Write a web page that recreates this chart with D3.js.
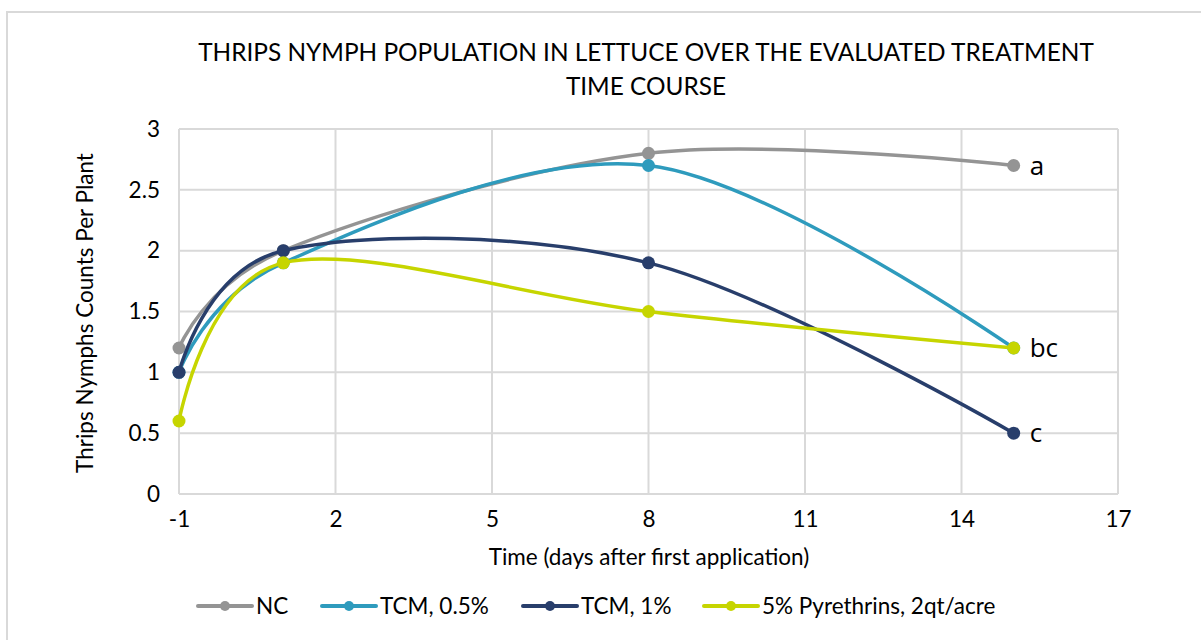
<!DOCTYPE html>
<html>
<head>
<meta charset="utf-8">
<script src="https://cdn.jsdelivr.net/npm/d3@7"></script>
<style>
  html, body { margin: 0; padding: 0; background: #fff; }
  svg { display: block; }
  text { fill: #000; }
</style>
</head>
<body>
<svg id="chart" width="1201" height="640"></svg>
<script>
// ---- data ----
const days = [-1, 1, 8, 15];
const seriesNames = ["NC", "TCM, 0.5%", "TCM, 1%", "5% Pyrethrins, 2qt/acre"];
const ncValues = [1.2, 2.0, 2.8, 2.7];
const tcm05Values = [1.0, 1.9, 2.7, 1.2];
const tcm1Values = [1.0, 2.0, 1.9, 0.5];
const pyrethrinValues = [0.6, 1.9, 1.5, 1.2];
const seriesColors = ["#949494", "#2e9bbd", "#283e6b", "#c6d500"];
const xTicks = [-1, 2, 5, 8, 11, 14, 17];
const yTicks = [0, 0.5, 1, 1.5, 2, 2.5, 3];
const letterLabels = [{ text: "a", x: 15, y: 2.7 }, { text: "bc", x: 15, y: 1.2 }, { text: "c", x: 15, y: 0.5 }];
const titleLines = ["THRIPS NYMPH POPULATION IN LETTUCE OVER THE EVALUATED TREATMENT", "TIME COURSE"];
const xTitle = "Time (days after first application)";
const yTitle = "Thrips Nymphs Counts Per Plant";

const allSeries = [ncValues, tcm05Values, tcm1Values, pyrethrinValues].map((vals, i) => ({
  name: seriesNames[i], color: seriesColors[i],
  points: days.map((d, j) => ({ x: d, y: vals[j] }))
}));

const svg = d3.select("#chart");
const font = "Lato, 'Open Sans', sans-serif";
const fs = 22.5;

// border
svg.append("path")
  .attr("d", "M7,640 V12 H1201")
  .attr("fill", "none").attr("stroke", "#d9d9d9").attr("stroke-width", 2);

const x = d3.scaleLinear().domain([-1, 17]).range([179, 1118]);
const y = d3.scaleLinear().domain([0, 3]).range([494, 129]);

// grid
const grid = svg.append("g");
grid.selectAll("line.h").data(yTicks).join("line")
  .attr("x1", x(-1)).attr("x2", x(17))
  .attr("y1", d => y(d)).attr("y2", d => y(d))
  .attr("stroke", "#d9d9d9").attr("stroke-width", 2);
grid.selectAll("line.v").data(xTicks).join("line")
  .attr("x1", d => x(d)).attr("x2", d => x(d))
  .attr("y1", y(0)).attr("y2", y(3))
  .attr("stroke", "#d9d9d9").attr("stroke-width", 2);

// axes (labels only)
const xAxis = svg.append("g").attr("transform", `translate(0,${y(0)})`)
  .call(d3.axisBottom(x).tickValues(xTicks).tickSize(0).tickPadding(17).tickFormat(d => String(d)));
xAxis.select(".domain").remove();
xAxis.selectAll("text").attr("font-family", font).attr("font-size", fs).attr("fill", "#000");

const yAxis = svg.append("g").attr("transform", `translate(${x(-1)},0)`)
  .call(d3.axisLeft(y).tickValues(yTicks).tickSize(0).tickPadding(19).tickFormat(d => String(d)));
yAxis.select(".domain").remove();
yAxis.selectAll("text").attr("font-family", font).attr("font-size", fs).attr("fill", "#000");

// title
svg.append("text").attr("font-family", font).attr("font-size", 24.4)
  .attr("text-anchor", "middle")
  .selectAll("tspan").data(titleLines).join("tspan")
  .attr("x", 646).attr("y", (d, i) => 61 + i * 34).text(d => d);

svg.append("text").attr("x", 649).attr("y", 565).attr("text-anchor", "middle")
  .attr("font-family", font).attr("font-size", fs).text(xTitle);
svg.append("text").attr("transform", "translate(93,313) rotate(-90)").attr("text-anchor", "middle")
  .attr("font-family", font).attr("font-size", fs).text(yTitle);

// lines
const line = d3.line().x(d => x(d.x)).y(d => y(d.y)).curve(d3.curveCardinal.tension(0));
const gs = svg.append("g").selectAll("g").data(allSeries).join("g");
gs.append("path").attr("d", d => line(d.points)).attr("fill", "none")
  .attr("stroke", d => d.color).attr("stroke-width", 3.5).attr("stroke-linecap", "round");
gs.selectAll("circle").data(d => d.points.map(p => ({ ...p, color: d.color }))).join("circle")
  .attr("cx", d => x(d.x)).attr("cy", d => y(d.y)).attr("r", 6.5).attr("fill", d => d.color);

// letters
svg.append("g").selectAll("text").data(letterLabels).join("text")
  .attr("x", d => x(d.x) + 16).attr("y", d => y(d.y)).attr("dy", "0.35em")
  .attr("font-family", "'Open Sans', sans-serif").attr("font-size", 26).text(d => d.text);

// legend
const legendX = [198, 322, 523, 704];
const lg = svg.append("g").selectAll("g").data(allSeries).join("g")
  .attr("transform", (d, i) => `translate(${legendX[i]},606)`);
lg.append("line").attr("x1", 0).attr("x2", 54).attr("stroke", d => d.color)
  .attr("stroke-width", 4).attr("stroke-linecap", "round");
lg.append("circle").attr("cx", 27).attr("r", 5).attr("fill", d => d.color);
lg.append("text").attr("x", 58).attr("dy", "0.35em").attr("font-family", font)
  .attr("font-size", fs).text(d => d.name);
</script>
</body>
</html>
